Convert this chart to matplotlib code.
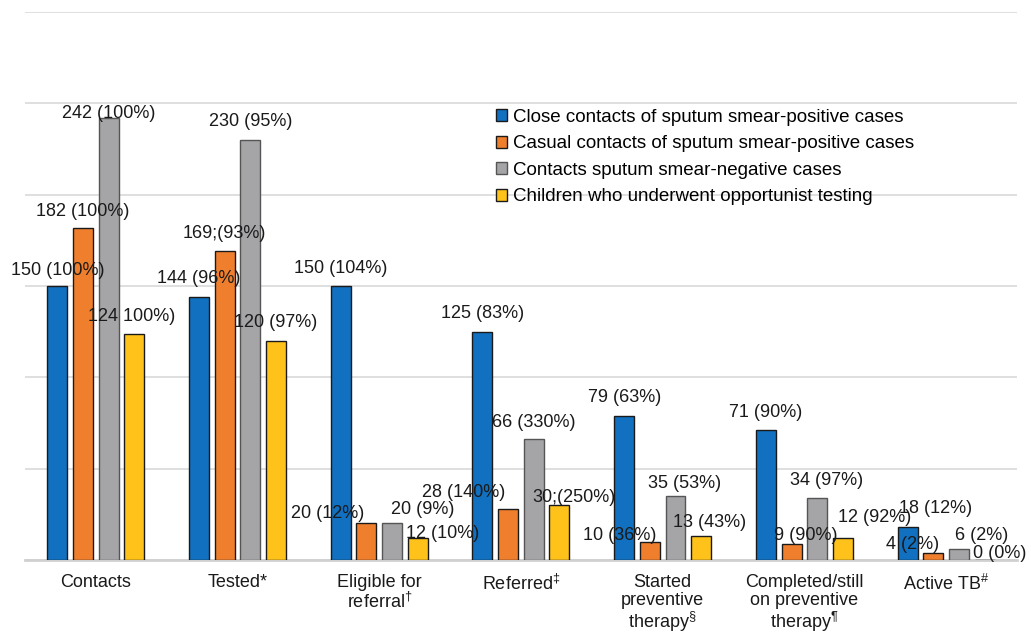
import numpy as np
import matplotlib
matplotlib.use("Agg")
import matplotlib.pyplot as plt

plt.rcParams["font.family"] = ["Liberation Sans", "DejaVu Sans"]
plt.rcParams["mathtext.fontset"] = "custom"
plt.rcParams["mathtext.rm"] = "Liberation Sans"

categories = [
    "Contacts",
    "Tested*",
    "Eligible for\nreferral$^{\\dag}$",
    "Referred$^{\\ddag}$",
    "Started\npreventive\ntherapy$^{\\S}$",
    "Completed/still\non preventive\ntherapy$^{\\P}$",
    "Active TB$^{\\#}$",
]
series_names = [
    "Close contacts of sputum smear-positive cases",
    "Casual contacts of sputum smear-positive cases",
    "Contacts sputum smear-negative cases",
    "Children who underwent opportunist testing",
]
close_pos = [150, 144, 150, 125, 79, 71, 18]
casual_pos = [182, 169, 20, 28, 10, 9, 4]
smear_neg = [242, 230, 20, 66, 35, 34, 6]
children = [124, 120, 12, 30, 13, 12, 0]

close_lbl = ["150 (100%)", "144 (96%)", "150 (104%)", "125 (83%)", "79 (63%)", "71 (90%)", "18 (12%)"]
casual_lbl = ["182 (100%)", "169;(93%)", "20 (12%)", "28 (140%)", "10 (36%)", "9 (90%)", "4 (2%)"]
neg_lbl = ["242 (100%)", "230 (95%)", "20 (9%)", "66 (330%)", "35 (53%)", "34 (97%)", "6 (2%)"]
child_lbl = ["124 100%)", "120 (97%)", "12 (10%)", "30;(250%)", "13 (43%)", "12 (92%)", "0 (0%)"]

# hand-placed label nudges (pixels), like the original chart
nudge = [
    [(0, 16), (0, 18), (0, 18), (0, 18), (0, 18), (0, 18), (28, 19)],
    [(0, 16), (0, 18), (-39, 10), (-45, 16), (-30, 6), (14, 8), (-21, 8)],
    [(0, 5), (0, 18), (31, 14), (0, 17), (9, 13), (9, 17), (23, 14)],
    [(-3, 17), (0, 18), (25, 5), (15, 8), (8, 14), (32, 21), (15, 7)],
]

colors = ["#1170C0", "#F07F2D", "#A5A5A8", "#FFC21A"]
edges = ["#1a1a1a", "#1a1a1a", "#555555", "#1a1a1a"]

values = [close_pos, casual_pos, smear_neg, children]
labels = [close_lbl, casual_lbl, neg_lbl, child_lbl]

fig = plt.figure(figsize=(10.31, 6.35), dpi=100)
ax = fig.add_axes([0.0242, 0.1181, 0.9622, 0.8629])

x = np.arange(len(categories))
width = 0.141
step = 0.181
for i, (vals, lbls) in enumerate(zip(values, labels)):
    pos = x + (i - 1.5) * step
    ax.bar(pos, vals, width, color=colors[i], edgecolor=edges[i],
           linewidth=1.0, label=series_names[i], zorder=3)
    for p, v, t, (dx, dy) in zip(pos, vals, lbls, nudge[i]):
        ax.annotate(t, (p, v), xytext=(dx, dy), textcoords="offset pixels",
                    ha="center", va="center", fontsize=13, color="#1a1a1a",
                    zorder=4)

ax.set_xlim(-0.5, len(categories) - 0.5)
ax.set_ylim(0, 300)
ax.set_yticks(np.arange(0, 301, 50))
ax.yaxis.grid(True, color="#d9d9d9", linewidth=1.2, zorder=0)
ax.tick_params(axis="y", left=False, labelleft=False)
ax.tick_params(axis="x", length=0, pad=10, labelsize=13, labelcolor="#1a1a1a")
ax.set_xticks(x)
ax.set_xticklabels(categories, linespacing=1.08)
for s in ["top", "right", "left"]:
    ax.spines[s].set_visible(False)
ax.spines["bottom"].set_color("#d0d0d0")
ax.spines["bottom"].set_linewidth(2)

ax.legend(loc="upper left", bbox_to_anchor=(0.475, 0.823), frameon=False,
          fontsize=13.5, handlelength=0.6, handleheight=0.6, handletextpad=0.3,
          labelspacing=0.5, borderaxespad=0, borderpad=0)

fig.savefig("out.png", dpi=100)
